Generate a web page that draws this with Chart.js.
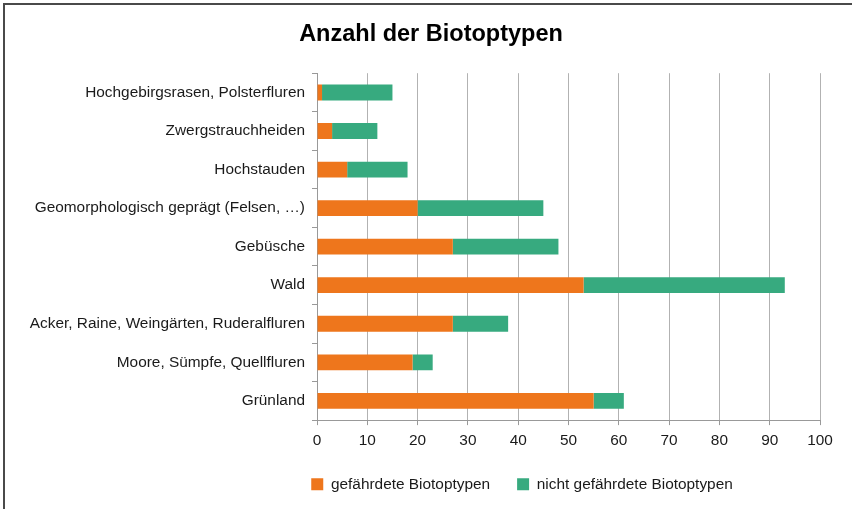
<!DOCTYPE html>
<html>
<head>
<meta charset="utf-8">
<script src="https://cdn.jsdelivr.net/npm/chart.js@4"></script>
<style>
    html,body{margin:0;padding:0;background:#fff;overflow:hidden;}
    .frame{position:absolute;left:3px;top:3px;width:900px;height:600px;border-top:2px solid #4a4a4a;border-left:2px solid #4a4a4a;}
    .wrap{position:absolute;left:0;top:0;width:852px;height:509px;}
</style>
</head>
<body>
<div class="frame"></div>
<div class="wrap"><canvas id="chart" width="852" height="509"></canvas></div>
<script>
const categories=[
    'Hochgebirgsrasen, Polsterfluren',
    'Zwergstrauchheiden',
    'Hochstauden',
    'Geomorphologisch geprägt (Felsen, …)',
    'Gebüsche',
    'Wald',
    'Acker, Raine, Weingärten, Ruderalfluren',
    'Moore, Sümpfe, Quellfluren',
    'Grünland'
];
const gefaehrdet=[1,3,6,20,27,53,27,19,55];
const nichtGefaehrdet=[14,9,12,25,21,40,11,4,6];
const xTicks=[0,10,20,30,40,50,60,70,80,90,100];

Chart.defaults.font.family="'Liberation Sans', Arial, sans-serif";
Chart.defaults.color='#1a1a1a';

// title and legend are not centred over the plot in the original, nudge them
const boxShift={
    id:'boxShift',
    afterLayout(chart){
        const legend=chart.legend;
        legend.left+=112;
        legend.right+=112;
        legend.top-=6;
        legend.bottom-=6;
        const title=chart.titleBlock;
        title.left+=21;
        title.right+=21;
    }
};

const ctx=document.getElementById('chart');
const chart=new Chart(ctx,{
    type:'bar',
    data:{
        labels:categories,
        datasets:[
            {label:'gefährdete Biotoptypen',data:gefaehrdet,backgroundColor:'#ee761c',barPercentage:0.41,categoryPercentage:1},
            {label:'nicht gefährdete Biotoptypen',data:nichtGefaehrdet,backgroundColor:'#37aa7f',barPercentage:0.41,categoryPercentage:1}
        ]
    },
    options:{
        indexAxis:'y',
        responsive:false,
        animation:false,
        layout:{padding:{left:0,right:32,top:0,bottom:1}},
        plugins:{
            title:{
                display:true,
                text:'Anzahl der Biotoptypen',
                font:{size:23.5,weight:'bold'},
                color:'#000',
                padding:{top:20,bottom:25}
            },
            legend:{
                position:'bottom',
                labels:{
                    boxWidth:12,
                    boxHeight:12,
                    padding:27,
                    font:{size:15.4},
                    color:'#1a1a1a'
                }
            },
            tooltip:{enabled:false}
        },
        scales:{
            x:{
                stacked:true,
                min:0,
                max:100,
                afterBuildTicks:function(scale){
                    scale.ticks=xTicks.map(v=>({value:v}));
                },
                grid:{color:'#b2b2b2',tickLength:5,tickColor:'#999'},
                border:{color:'#999'},
                ticks:{font:{size:15.4},padding:6,color:'#1a1a1a'}
            },
            y:{
                stacked:true,
                afterFit:function(scale){
                    scale.width=317;
                },
                grid:{offset:true,drawOnChartArea:false,tickLength:5,color:'#999'},
                border:{color:'#999'},
                ticks:{font:{size:15.4},padding:7,color:'#1a1a1a'}
            }
        }
    },
    plugins:[boxShift]
});
</script>
</body>
</html>
